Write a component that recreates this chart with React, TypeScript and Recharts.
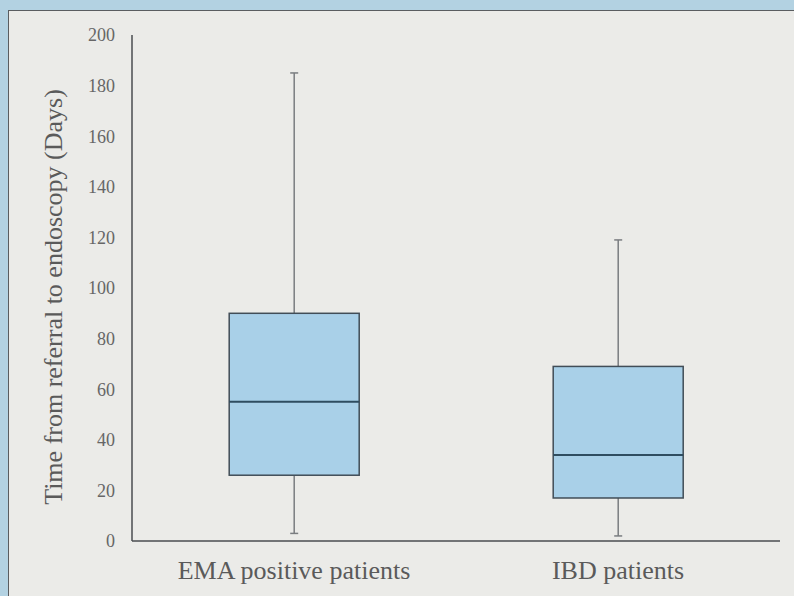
import { ComposedChart, Bar, XAxis, YAxis } from "recharts"

const groups = ["EMA positive patients", "IBD patients"]
const mins = [3, 2]
const q1s = [26, 17]
const medians = [55, 34]
const q3s = [90, 69]
const maxs = [185, 119]
const yTicks = [0, 20, 40, 60, 80, 100, 120, 140, 160, 180, 200]

const data = groups.map((name, i) => ({
  name,
  min: mins[i],
  q1: q1s[i],
  median: medians[i],
  q3: q3s[i],
  max: maxs[i],
  range: [mins[i], maxs[i]],
}))

const font = "'Liberation Serif', 'Times New Roman', serif"

// draws a whisker box inside the bar's [min, max] pixel span
function BoxShape(props: any) {
  const { x, y, width, height, payload } = props
  const { min, q1, median, q3, max } = payload
  const toY = (v: number) => y + (height * (max - v)) / (max - min)
  const cx = x + width / 2
  const cap = 4
  return (
    <g>
      <line x1={cx} x2={cx} y1={toY(max)} y2={toY(q3)} stroke="#7a7d80" strokeWidth={1.5} />
      <line x1={cx} x2={cx} y1={toY(q1)} y2={toY(min)} stroke="#7a7d80" strokeWidth={1.5} />
      <line x1={cx - cap} x2={cx + cap} y1={toY(max)} y2={toY(max)} stroke="#7a7d80" strokeWidth={1.5} />
      <line x1={cx - cap} x2={cx + cap} y1={toY(min)} y2={toY(min)} stroke="#7a7d80" strokeWidth={1.5} />
      <rect
        x={x}
        y={toY(q3)}
        width={width}
        height={toY(q1) - toY(q3)}
        fill="#a9d0e8"
        stroke="#414d57"
        strokeWidth={1.5}
      />
      <line x1={x} x2={x + width} y1={toY(median)} y2={toY(median)} stroke="#2f4d60" strokeWidth={2} />
    </g>
  )
}

export default function App() {
  return (
    <div style={{ position: "fixed", left: 0, top: 0, width: 794, height: 596, background: "#b3d2e2", overflow: "hidden" }}>
      <div
        style={{
          position: "absolute",
          left: 8,
          top: 10,
          width: 790,
          height: 600,
          background: "#ebebe8",
          borderTop: "1.5px solid #5a5d60",
          borderLeft: "1.5px solid #5a5d60",
        }}
      />
      <div style={{ position: "absolute", left: 0, top: 0 }}>
        <ComposedChart
          width={794}
          height={596}
          data={data}
          margin={{ top: 35, right: 14, bottom: 25, left: 0 }}
          barCategoryGap="30%"
        >
          <XAxis
            dataKey="name"
            tickLine={false}
            axisLine={{ stroke: "#4a4d50", strokeWidth: 1.5 }}
            tickMargin={14}
            tick={{ fontSize: 26, fill: "#5a5a5a", fontFamily: font }}
          />
          <YAxis
            width={132}
            domain={[0, 200]}
            ticks={yTicks}
            interval={0}
            tickLine={false}
            tickMargin={11}
            axisLine={{ stroke: "#4a4d50", strokeWidth: 1.5 }}
            tick={{ fontSize: 18, fill: "#666", fontFamily: font }}
            label={{
              value: "Time from referral to endoscopy (Days)",
              angle: -90,
              position: "insideLeft",
              offset: 53,
              dy: 9,
              style: { textAnchor: "middle", fontSize: 26, fill: "#5a5a5a", fontFamily: font },
            }}
          />
          <Bar dataKey="range" shape={<BoxShape />} isAnimationActive={false} />
        </ComposedChart>
      </div>
    </div>
  )
}
